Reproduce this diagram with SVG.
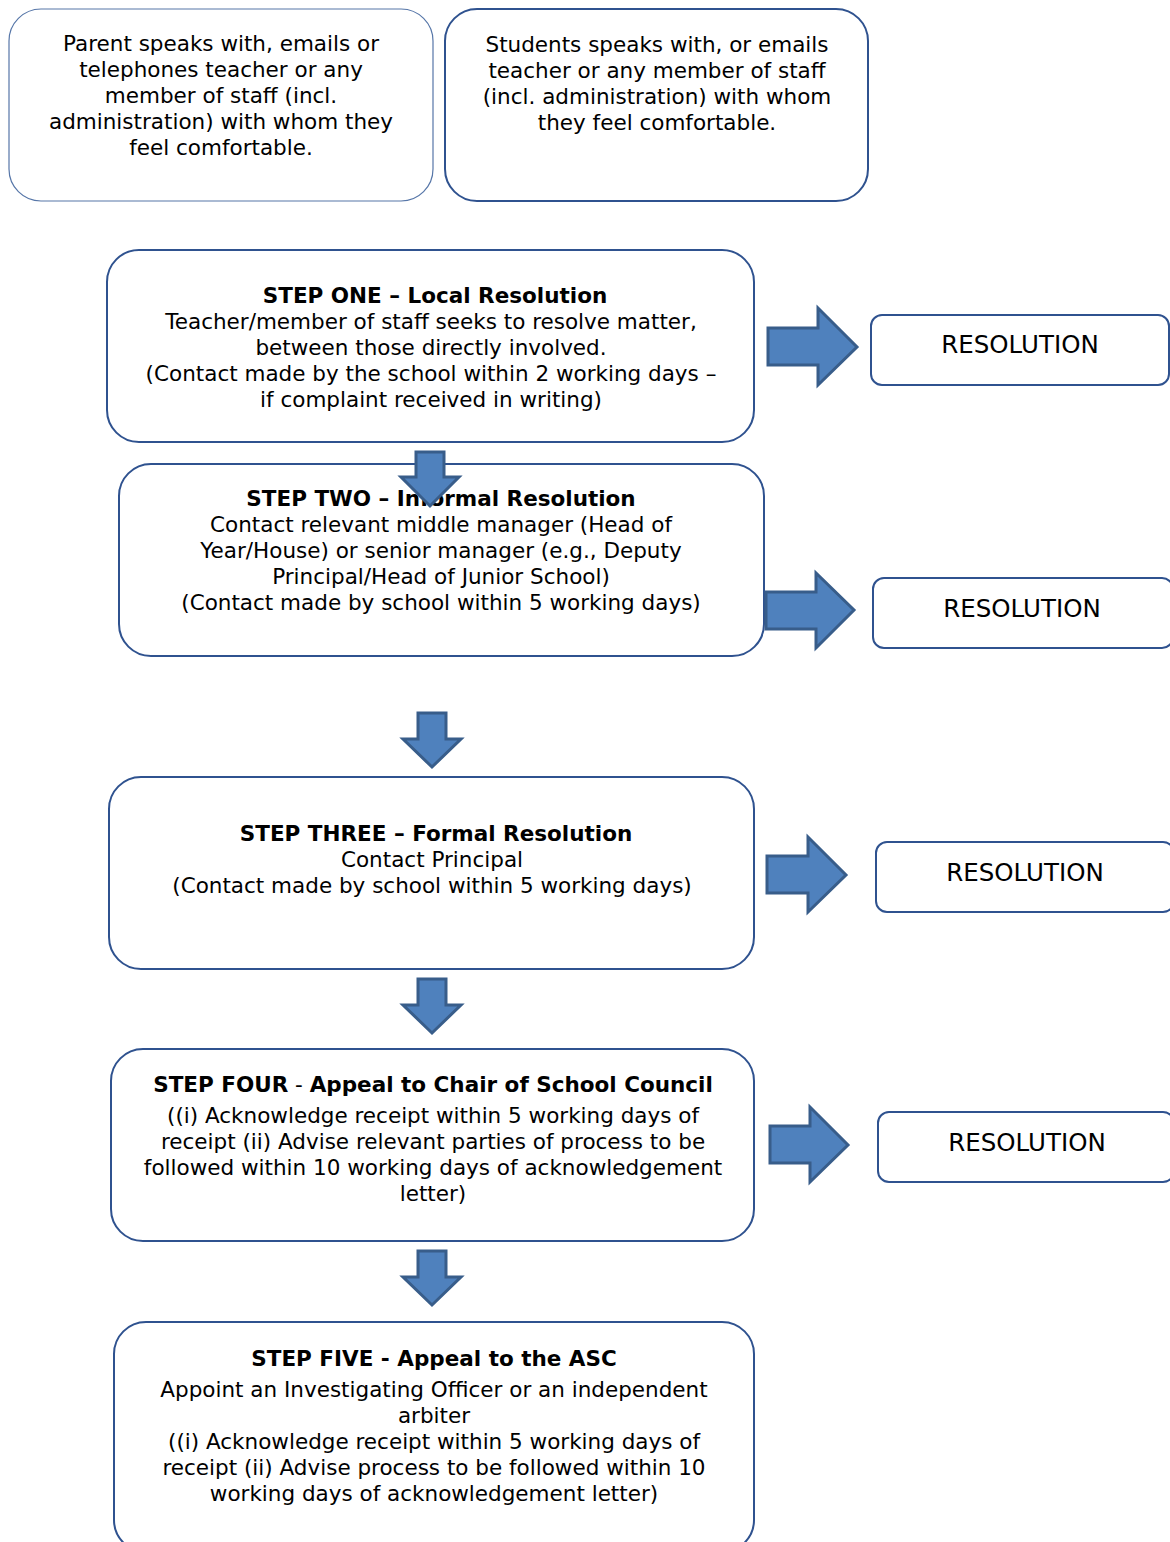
<svg xmlns="http://www.w3.org/2000/svg" width="1170" height="1542" viewBox="0 0 1170 1542">
<style>
.box{fill:#fff;stroke:#2f528f;stroke-width:2}
.thin{fill:#fff;stroke:#5676a8;stroke-width:1.2}
.res{fill:#fff;stroke:#2f528f;stroke-width:2}
text{font-family:"DejaVu Sans",Verdana,sans-serif;font-size:21.5px;fill:#000;text-anchor:middle}
.b{font-weight:bold}
.rt{font-size:24.5px}
.arr{fill:#4f81bd;stroke:#385d8a;stroke-width:3;stroke-linejoin:miter}
</style>
<rect width="1170" height="1542" fill="#fff"/>
<g id="parent">
<rect class="thin" x="9" y="9" width="424" height="192" rx="32"/>
<text x="221" y="51">Parent speaks with, emails or</text>
<text x="221" y="77">telephones teacher or any</text>
<text x="221" y="103">member of staff (incl.</text>
<text x="221" y="129">administration) with whom they</text>
<text x="221" y="155">feel comfortable.</text>
</g>
<g id="students">
<rect class="box" x="445" y="9" width="423" height="192" rx="32"/>
<text x="657" y="52">Students speaks with, or emails</text>
<text x="657" y="78">teacher or any member of staff</text>
<text x="657" y="104">(incl. administration) with whom</text>
<text x="657" y="130">they feel comfortable.</text>
</g>
<g id="step1">
<rect class="box" x="107" y="250" width="647" height="192" rx="32"/>
<text x="435" y="303" class="b">STEP ONE – Local Resolution</text>
<text x="431" y="329">Teacher/member of staff seeks to resolve matter,</text>
<text x="431" y="355">between those directly involved.</text>
<text x="431" y="381">(Contact made by the school within 2 working days –</text>
<text x="431" y="407">if complaint received in writing)</text>
</g>
<g id="res1">
<rect class="res" x="871" y="315" width="298" height="70" rx="11"/>
<text x="1020" y="353" class="rt">RESOLUTION</text>
</g>
<g id="step2">
<rect class="box" x="119" y="464" width="645" height="192" rx="32"/>
<text x="441" y="506" class="b">STEP TWO – Informal Resolution</text>
<text x="441" y="532">Contact relevant middle manager (Head of</text>
<text x="441" y="558">Year/House) or senior manager (e.g., Deputy</text>
<text x="441" y="584">Principal/Head of Junior School)</text>
<text x="441" y="610">(Contact made by school within 5 working days)</text>
</g>
<g id="res2">
<rect class="res" x="873" y="578" width="300" height="70" rx="11"/>
<text x="1022" y="617" class="rt">RESOLUTION</text>
</g>
<g id="step3">
<rect class="box" x="109" y="777" width="645" height="192" rx="32"/>
<text x="436" y="841" class="b">STEP THREE – Formal Resolution</text>
<text x="432" y="867">Contact Principal</text>
<text x="432" y="893">(Contact made by school within 5 working days)</text>
</g>
<g id="res3">
<rect class="res" x="876" y="842" width="298" height="70" rx="11"/>
<text x="1025" y="881" class="rt">RESOLUTION</text>
</g>
<g id="step4">
<rect class="box" x="111" y="1049" width="643" height="192" rx="32"/>
<text x="433" y="1092"><tspan class="b">STEP FOUR</tspan> - <tspan class="b">Appeal to Chair of School Council</tspan></text>
<text x="433" y="1123">((i) Acknowledge receipt within 5 working days of</text>
<text x="433" y="1149">receipt (ii) Advise relevant parties of process to be</text>
<text x="433" y="1175">followed within 10 working days of acknowledgement</text>
<text x="433" y="1201">letter)</text>
</g>
<g id="res4">
<rect class="res" x="878" y="1112" width="296" height="70" rx="11"/>
<text x="1027" y="1151" class="rt">RESOLUTION</text>
</g>
<g id="step5">
<rect class="box" x="114" y="1322" width="640" height="230" rx="32"/>
<text x="434" y="1366" class="b">STEP FIVE - Appeal to the ASC</text>
<text x="434" y="1397">Appoint an Investigating Officer or an independent</text>
<text x="434" y="1423">arbiter</text>
<text x="434" y="1449">((i) Acknowledge receipt within 5 working days of</text>
<text x="434" y="1475">receipt (ii) Advise process to be followed within 10</text>
<text x="434" y="1501">working days of acknowledgement letter)</text>
</g>
<g id="connectors">
<path class="arr" d="M768,328 H818 V308 L857,347 L818,385 V365 H768 Z"/>
<path class="arr" d="M766,592 H816 V573 L854,610 L816,648 V629 H766 Z"/>
<path class="arr" d="M767,856 H808 V837 L846,875 L808,912 V893 H767 Z"/>
<path class="arr" d="M770,1126 H810 V1107 L848,1145 L810,1182 V1163 H770 Z"/>
<path class="arr" d="M416,452 H444 V477 H459 L430,506 L401,477 H416 Z"/>
<path class="arr" d="M418,713 H446 V739 H461 L432,767 L403,739 H418 Z"/>
<path class="arr" d="M418,979 H446 V1005 H461 L432,1033 L403,1005 H418 Z"/>
<path class="arr" d="M418,1251 H446 V1277 H461 L432,1305 L403,1277 H418 Z"/>
</g>
</svg>
